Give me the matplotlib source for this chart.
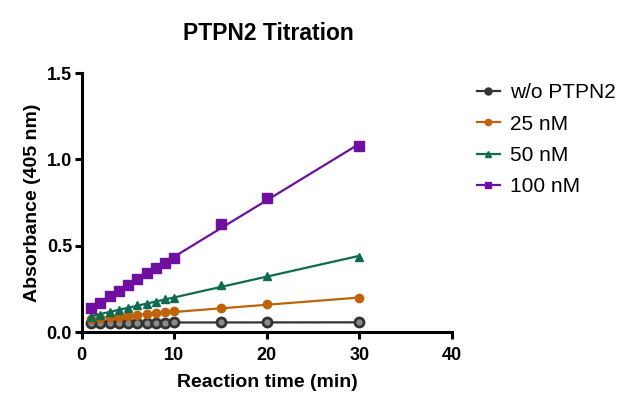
import numpy as np
import matplotlib.pyplot as plt
import matplotlib.ticker as mticker

plt.rcParams['font.family'] = ['Liberation Sans', 'DejaVu Sans']

# Reaction times (min)
time = [1, 2, 3, 4, 5, 6, 7, 8, 9, 10, 15, 20, 30]

# Absorbance (405 nm) per PTPN2 concentration
wo_ptpn2 = [0.055, 0.055, 0.055, 0.055, 0.055, 0.055, 0.055, 0.055, 0.055, 0.056, 0.056, 0.056, 0.056]
nm25 = [0.075, 0.08, 0.085, 0.09, 0.095, 0.10, 0.105, 0.11, 0.115, 0.12, 0.14, 0.16, 0.195]
nm50 = [0.09, 0.10, 0.115, 0.13, 0.14, 0.155, 0.165, 0.175, 0.19, 0.20, 0.27, 0.325, 0.435]
nm100 = [0.14, 0.17, 0.21, 0.24, 0.27, 0.31, 0.34, 0.37, 0.40, 0.43, 0.625, 0.775, 1.075]

labels = ['w/o PTPN2', '25 nM', '50 nM', '100 nM']
colors = ['#333333', '#C06208', '#0E6B4E', '#6E0FA0']
markers = ['o', 'o', '^', 's']

fig = plt.figure(figsize=(6.34, 4.13), dpi=100)
ax = fig.add_axes([0.129, 0.196, 0.584, 0.627])

t = np.array(time)
series = [wo_ptpn2, nm25, nm50, nm100]
handles = []
for i, ys in enumerate(series):
    # linear regression line through each series
    k, b = np.polyfit(t, ys, 1)
    xf = np.array([t.min(), t.max()])
    ax.plot(xf, k * xf + b, color=colors[i], lw=1.6, zorder=2 + i)
    if i == 0:
        ax.plot(t, ys, ls='none', marker='o', ms=6.5, mfc='#8a8a8a',
                mec=colors[i], mew=2, zorder=2)
        h, = ax.plot([], [], color=colors[i], lw=1.6, marker='o', ms=5,
                     mfc=colors[i], mec=colors[i])
    else:
        ms = 6.5 if markers[i] == 's' else 6
        ax.plot(t, ys, ls='none', marker=markers[i], ms=ms,
                mfc=colors[i], mec=colors[i], zorder=3 + i)
        h, = ax.plot([], [], color=colors[i], lw=1.6, marker=markers[i], ms=4.5,
                     mfc=colors[i], mec=colors[i])
    handles.append(h)

ax.set_xlim(0, 40)
ax.set_ylim(0, 1.5)
ax.set_xticks([0, 10, 20, 30, 40])
ax.set_yticks([0, 0.5, 1.0, 1.5])
ax.yaxis.set_major_formatter(mticker.FormatStrFormatter('%.1f'))

for s in ['top', 'right']:
    ax.spines[s].set_visible(False)
for s in ['left', 'bottom']:
    ax.spines[s].set_linewidth(2.2)
ax.tick_params(width=2.2, length=5, labelsize=13, pad=2)
ax.tick_params(axis='x', pad=5.5)
for lab in ax.get_xticklabels() + ax.get_yticklabels():
    lab.set_fontweight('bold')

ax.set_xlabel('Reaction time (min)', fontsize=14, fontweight='bold', labelpad=7.5)
ax.set_ylabel('Absorbance (405 nm)', fontsize=14, fontweight='bold', labelpad=4)
fig.text(0.423, 0.918, 'PTPN2 Titration', ha='center', va='center',
         fontsize=16.5, fontweight='bold')

fig.legend(handles, labels, loc='upper left', bbox_to_anchor=(477 / 634, 1 - 83 / 413),
           bbox_transform=fig.transFigure, frameon=False, fontsize=15,
           handlelength=1.1, handletextpad=0.5, labelspacing=0.6,
           borderpad=0, borderaxespad=0)

plt.savefig('out.png', dpi=100)
